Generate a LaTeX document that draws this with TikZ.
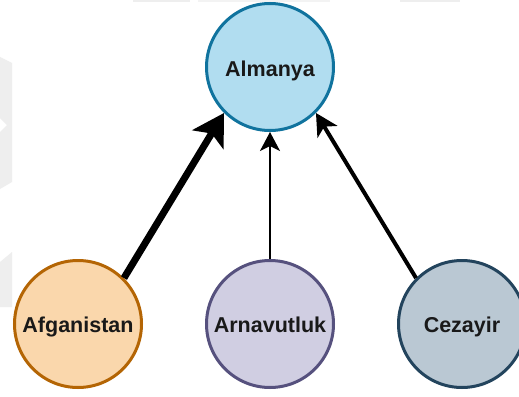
\documentclass[tikz,border=0pt]{standalone}
\usepackage{fontspec}
\setmainfont{Liberation Sans}
\usetikzlibrary{arrows.meta}

\definecolor{almfill}{HTML}{B1DDF0}
\definecolor{almline}{HTML}{10739E}
\definecolor{afgfill}{HTML}{FAD7AC}
\definecolor{afgline}{HTML}{B46504}
\definecolor{arnfill}{HTML}{D0CEE2}
\definecolor{arnline}{HTML}{56517E}
\definecolor{cezfill}{HTML}{BAC8D3}
\definecolor{cezline}{HTML}{23445D}
\definecolor{faint}{HTML}{EEEEEE}

\tikzset{
  country/.style={circle, line width=3pt, minimum size=127pt, inner sep=0pt,
    font=\fontsize{21.5}{24}\selectfont\bfseries, text=black!90,
    text height=16pt, text depth=0pt},
  link/.style={draw=black, line cap=butt},
}

\begin{document}
\begin{tikzpicture}[x=1pt, y=-1pt]
  \useasboundingbox (0,0) rectangle (519,396);
  \fill[white] (0,0) rectangle (519,396);

  % faint background marks
  \fill[faint] (0,57) -- (12,63) -- (12,182) -- (0,189) -- (0,132) -- (7,125) -- (0,118) -- cycle;
  \fill[faint] (0,262) -- (12,252) -- (12,307) -- (0,307) -- cycle;
  \fill[faint] (133,0) rectangle (190,2.5);
  \fill[faint!70] (198,0) rectangle (330,2);
  \fill[faint] (400,0) rectangle (460,2.5);

  % countries
  \node[country, draw=almline, fill=almfill, text height=20pt] (alm) at (270,67) {Almanya};
  \node[country, draw=afgline, fill=afgfill] (afg) at (78,324) {Afganistan};
  \node[country, draw=arnline, fill=arnfill] (arn) at (270,324) {Arnavutluk};
  \node[country, draw=cezline, fill=cezfill] (cez) at (462,324) {Cezayir};

  % links towards Almanya
  \draw[link, line width=7pt, -{Stealth[length=31pt, width=36pt, inset=7pt]}]
    (afg.45) -- (alm.225);
  \draw[link, line width=2.5pt, -{Stealth[length=19pt, width=20pt, inset=5pt]}]
    (arn.north) -- (alm.south);
  \draw[link, line width=4pt, -{Stealth[length=22pt, width=23pt, inset=6pt]}]
    (cez.135) -- (alm.-45);
\end{tikzpicture}
\end{document}
